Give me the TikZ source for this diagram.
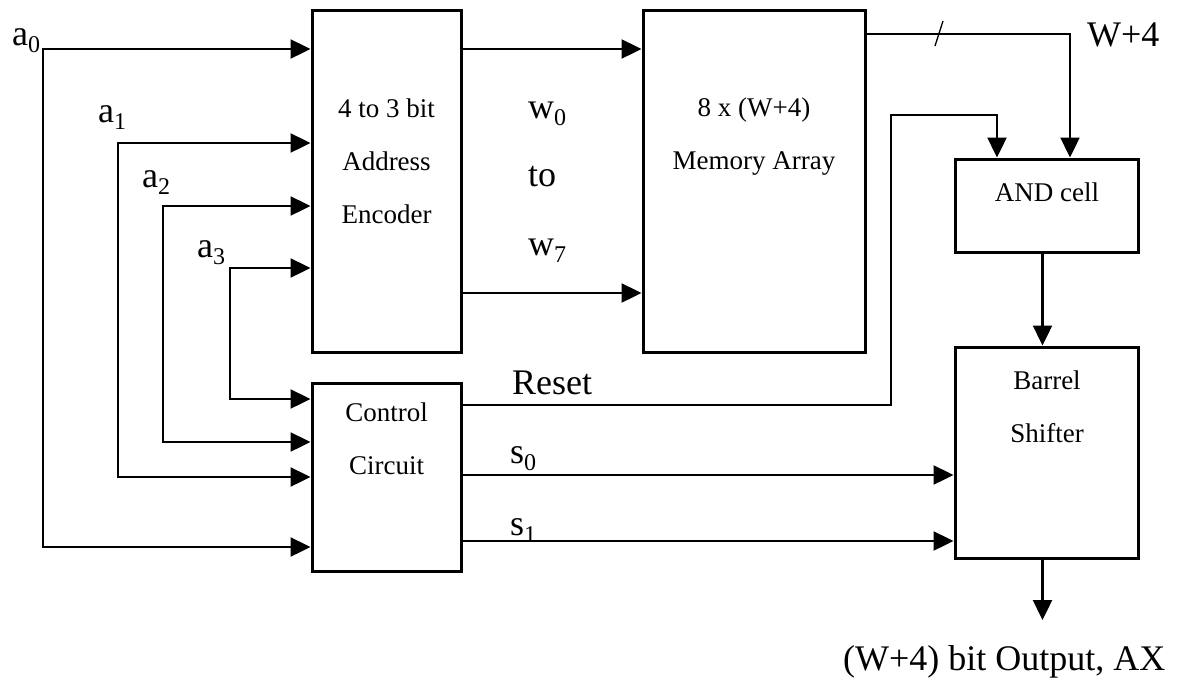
\documentclass[tikz,border=0pt]{standalone}
\usepackage{fontspec}
\setmainfont{Liberation Serif}
\usetikzlibrary{arrows.meta}
\newcommand{\lowidx}[1]{\raisebox{-7pt}{\fontsize{24}{24}\selectfont #1}}

\begin{document}
\begin{tikzpicture}[x=1pt,y=-1pt,
    block/.style={draw,line width=3pt,inner sep=0pt},
    blocktext/.style={font=\fontsize{27}{53}\selectfont,align=center,anchor=north,inner sep=0pt},
    sig/.style={font=\fontsize{36}{36}\selectfont,anchor=base west,inner sep=0pt},
    arr/.style={line width=2.4pt,-{Triangle[length=20pt,width=19pt]}},
    biarr/.style={line width=2.4pt,{Triangle[length=20pt,width=19pt]}-{Triangle[length=20pt,width=19pt]}}]
    \useasboundingbox (0,0) rectangle (1184,686);
    % blocks
    \node[block,minimum width=149pt,minimum height=342pt] (enc) at (386.5,181) {};
    \node[block,minimum width=222pt,minimum height=342pt] (mem) at (754,181) {};
    \node[block,minimum width=183pt,minimum height=93pt] (andc) at (1046.5,205.5) {};
    \node[block,minimum width=183pt,minimum height=211pt] (bar) at (1046.5,452.5) {};
    \node[block,minimum width=149pt,minimum height=188pt] (ctl) at (386.5,477) {};
    \node[blocktext] (enctext) at (386.5,99) {4 to 3 bit\\Address\\Encoder};
    \node[blocktext] (memtext) at (754,98) {8 x (W+4)\\Memory Array};
    \node[blocktext] (andtext) at (1047,183) {AND cell};
    \node[blocktext] (bartext) at (1047,371) {Barrel\\Shifter};
    \node[blocktext] (ctltext) at (386.5,403) {Control\\Circuit};
    % inputs a0 to a3
    \coordinate (a0) at (43,49);
    \coordinate (a1) at (118,143);
    \coordinate (a2) at (163,206);
    \coordinate (a3) at (230,268);
    \node[sig] (la0) at (12,45) {a\lowidx{0}};
    \node[sig] (la1) at (98,122) {a\lowidx{1}};
    \node[sig] (la2) at (142,187) {a\lowidx{2}};
    \node[sig] (la3) at (197,257) {a\lowidx{3}};
    \draw[biarr] (a0 -| enc.west) -- (a0) |- ([yshift=-70pt]ctl.west);
    \draw[biarr] (a1 -| enc.west) -- (a1) |- (ctl.west);
    \draw[biarr] (a2 -| enc.west) -- (a2) |- ([yshift=35pt]ctl.west);
    \draw[biarr] (a3 -| enc.west) -- (a3) |- ([yshift=78pt]ctl.west);
    % word lines
    \draw[arr] (enc.east |- a0) -- (mem.west |- a0);
    \draw[arr] ([yshift=-112pt]enc.east) -- ([yshift=-112pt]mem.west);
    \node[sig] (lw0) at (528,118) {w\lowidx{0}};
    \node[sig] (lto) at (528,186) {to};
    \node[sig] (lw7) at (528,255) {w\lowidx{7}};
    % memory out, W+4 bits
    \draw[arr] ([yshift=147pt]mem.east) -| ([xshift=23.5pt]andc.north);
    \draw[line width=1.3pt] (935,46) -- (943,21);% bus mark
    \node[sig] (lwidth) at (1087,46) {W+4};
    % reset
    \coordinate (rst) at (891,115);
    \draw[arr] ([yshift=72pt]ctl.east) -| (rst) -| ([xshift=-49.5pt]andc.north);
    \node[sig] (lreset) at (512,394) {Reset};
    % shift controls
    \coordinate (s0) at ([yshift=2pt]ctl.east);
    \coordinate (s1) at ([yshift=-64pt]ctl.east);
    \draw[arr] (s0) -- (s0 -| bar.west);
    \draw[arr] (s1) -- (s1 -| bar.west);
    \node[sig] (ls0) at (510,463) {s\lowidx{0}};
    \node[sig] (ls1) at (510,535) {s\lowidx{1}};
    % output
    \draw[arr] ([xshift=-4pt]andc.south) -- ([xshift=-4pt]bar.north);
    \coordinate (out) at (1042.5,620);
    \draw[arr] ([xshift=-4pt]bar.south) -- (out);
    \node[sig] (lout) at (843,670) {(W+4) bit Output, AX};
  \end{tikzpicture}
\end{document}
